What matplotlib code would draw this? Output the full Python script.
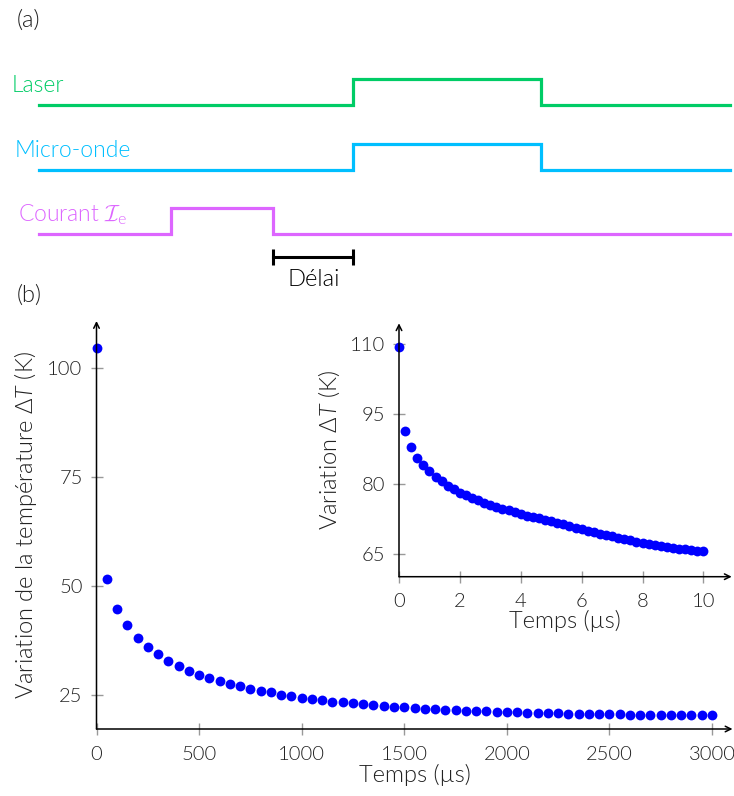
import numpy as np
import matplotlib
matplotlib.use('Agg')
import matplotlib.pyplot as plt

plt.rcParams['font.family'] = ['Lato', 'DejaVu Sans']
plt.rcParams['font.weight'] = 300
plt.rcParams['axes.labelweight'] = 300
plt.rcParams['mathtext.fontset'] = 'custom'
plt.rcParams['mathtext.rm'] = 'Lato'
plt.rcParams['mathtext.it'] = 'Lato:italic'
plt.rcParams['mathtext.cal'] = 'cmsy10'

# (a) timing diagram, arbitrary time units 0..100
sig_names = ['Laser', 'Micro-onde', r'Courant $\mathcal{I}_{\mathrm{e}}$']
sig_colors = ['#00cc66', '#00bfff', '#dd66ff']
sig_on = [45.4, 45.4, 19.1]
sig_off = [72.6, 72.6, 33.9]
t_start, t_end = 0, 100
delai = [33.9, 45.5]

# (b) main series: temperature vs time (us)
t_main = np.arange(0, 3001, 50)
dT_main = [104.65, 51.65, 44.9, 41.1, 38.2, 36.0, 34.5, 32.9, 31.8, 30.7,
           29.65, 29.0, 28.4, 27.65, 27.05, 26.5, 26.05, 25.7, 25.2, 24.85,
           24.4, 24.15, 23.85, 23.6, 23.4, 23.17, 22.94, 22.8, 22.6, 22.45,
           22.3, 22.1, 21.95, 21.85, 21.7, 21.62, 21.48, 21.4, 21.32, 21.24,
           21.16, 21.1, 21.05, 21.0, 20.95, 20.9, 20.85, 20.8, 20.77, 20.74,
           20.7, 20.66, 20.62, 20.6, 20.57, 20.54, 20.51, 20.49, 20.46, 20.44,
           20.42]

# inset series: first 10 us
t_ins = np.arange(0, 10.01, 0.2)
dT_ins = [109.4, 91.3, 87.9, 85.5, 84.1, 82.8, 81.6, 80.6, 79.7, 78.9,
          78.2, 77.6, 77.0, 76.5, 76.0, 75.6, 75.18, 74.78, 74.38, 73.98,
          73.6, 73.28, 72.97, 72.67, 72.38, 72.1, 71.75, 71.4, 71.05, 70.7,
          70.4, 70.07, 69.75, 69.43, 69.1, 68.8, 68.5, 68.22, 67.95, 67.68,
          67.4, 67.18, 66.97, 66.77, 66.58, 66.4, 66.23, 66.06, 65.9, 65.75,
          65.6]

W, H = 734, 796
fig = plt.figure(figsize=(W / 100, H / 100), dpi=100)

# ---- (a) ----
axa = fig.add_axes([39 / W, (H - 298.5) / H, 691 / W, 258 / H])
axa.set_xlim(t_start, t_end)
axa.set_ylim(-1, 3)
axa.axis('off')
label_x = [-3.9, -3.5, -3.0]
for i, (name, col, on, off) in enumerate(zip(sig_names, sig_colors, sig_on, sig_off)):
    base = 2 - i
    xs = [t_start, on, on, off, off, t_end]
    ys = [base, base, base + 0.4, base + 0.4, base, base]
    axa.plot(xs, ys, color=col, lw=2.3, solid_joinstyle='miter', clip_on=False)
    axa.text(label_x[i], base + 0.3, name, color=col, fontsize=16.5,
             ha='left', va='center', clip_on=False)
axa.plot(delai, [-0.36, -0.36], color='black', lw=2.2, clip_on=False)
axa.plot(delai, [-0.36, -0.36], ls='none', marker='|', ms=11, mew=2.2,
         color='black', clip_on=False)
axa.text(np.mean(delai), -0.7, 'Délai', fontsize=17, ha='center', va='center',
         color='black')

fig.text(17 / W, 1 - 20 / H, '(a)', fontsize=17, va='center', ha='left',
         color='#222222')
fig.text(17 / W, 1 - 295 / H, '(b)', fontsize=17, va='center', ha='left',
         color='#222222')


def style_axes(ax):
    for s in ax.spines.values():
        s.set_visible(False)
    ax.annotate('', xy=(1, 0), xytext=(0, 0), xycoords='axes fraction',
                arrowprops=dict(arrowstyle='->', lw=1.1, color='black',
                                shrinkA=0, shrinkB=0))
    ax.annotate('', xy=(0, 1), xytext=(0, 0), xycoords='axes fraction',
                arrowprops=dict(arrowstyle='->', lw=1.1, color='black',
                                shrinkA=0, shrinkB=0))
    ax.tick_params(direction='inout', length=8, width=1, color='#999999',
                   labelcolor='#222222', labelsize=14.5)
    ax.tick_params(axis='x', pad=8)
    ax.tick_params(axis='y', pad=6)
    ax.patch.set_alpha(0)


# ---- (b) main ----
ax = fig.add_axes([96.5 / W, (H - 729) / H, 636 / W, 408 / H])
ax.scatter(t_main, dT_main, s=50, color='#0000ff', zorder=3, clip_on=False,
           linewidths=0)
ax.set_xlim(0, 3100)
ax.set_ylim(17.3, 110.8)
ax.set_xticks([0, 500, 1000, 1500, 2000, 2500, 3000])
ax.set_yticks([25, 50, 75, 100])
style_axes(ax)
ax.set_xlabel('Temps (µs)', fontsize=17, labelpad=1, color='#222222')
ax.set_ylabel(r'Variation de la température $\mathit{\Delta T}$ (K)', fontsize=17,
              labelpad=6, color='#222222')

# ---- inset ----
axi = fig.add_axes([399 / W, (H - 576.7) / H, 332.7 / W, 253.4 / H])
axi.scatter(t_ins, dT_ins, s=50, color='#0000ff', zorder=3, clip_on=False,
            linewidths=0)
axi.set_xlim(0, 10.93)
axi.set_ylim(60.2, 114.4)
axi.set_xticks([0, 2, 4, 6, 8, 10])
axi.set_yticks([65, 80, 95, 110])
style_axes(axi)
axi.set_xlabel('Temps (µs)', fontsize=17, labelpad=0, color='#222222')
axi.set_ylabel(r'Variation $\mathit{\Delta T}$ (K)', fontsize=17, labelpad=6,
               color='#222222')

fig.savefig('out.png', dpi=100)
